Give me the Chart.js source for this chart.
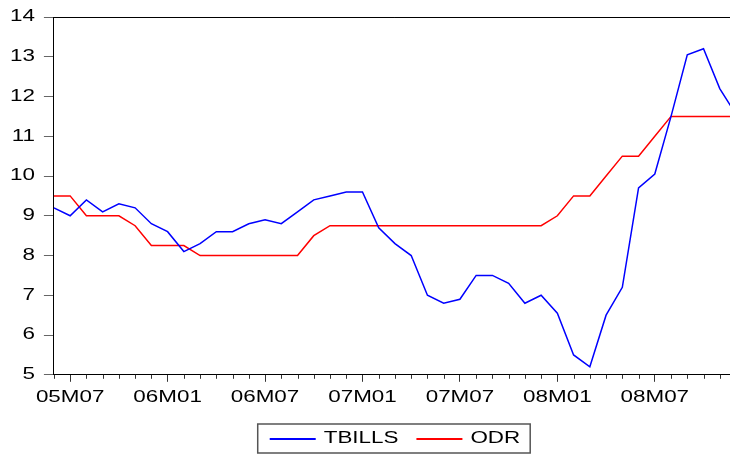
<!DOCTYPE html>
<html>
<head>
<meta charset="utf-8">
<script src="https://cdn.jsdelivr.net/npm/chart.js@4/dist/chart.umd.min.js"></script>
<style>
  html, body { margin: 0; padding: 0; overflow: hidden; background: #fff; }
  canvas { display: block; }
</style>
</head>
<body>
<canvas id="grafico" width="745" height="455"></canvas>
<script>
// meses 05M06 .. 08M12
const months = [
  "05M06","05M07","05M08","05M09","05M10","05M11","05M12",
  "06M01","06M02","06M03","06M04","06M05","06M06","06M07","06M08","06M09","06M10","06M11","06M12",
  "07M01","07M02","07M03","07M04","07M05","07M06","07M07","07M08","07M09","07M10","07M11","07M12",
  "08M01","08M02","08M03","08M04","08M05","08M06","08M07","08M08","08M09","08M10","08M11","08M12"
]
const majorLabels = ["05M07","06M01","06M07","07M01","07M07","08M01","08M07"]
const tbills = [
  9.2, 9.0, 9.4, 9.1, 9.3, 9.2, 8.8,
  8.6, 8.1, 8.3, 8.6, 8.6, 8.8, 8.9, 8.8, 9.1, 9.4, 9.5, 9.6,
  9.6, 8.7, 8.3, 8.0, 7.0, 6.8, 6.9, 7.5, 7.5, 7.3, 6.8, 7.0,
  6.55, 5.5, 5.2, 6.5, 7.2, 9.7, 10.05, 11.5, 13.05, 13.2, 12.2, 11.55
]
const odr = [
  9.5, 9.5, 9.0, 9.0, 9.0, 8.75, 8.25,
  8.25, 8.25, 8.0, 8.0, 8.0, 8.0, 8.0, 8.0, 8.0, 8.5, 8.75, 8.75,
  8.75, 8.75, 8.75, 8.75, 8.75, 8.75, 8.75, 8.75, 8.75, 8.75, 8.75, 8.75,
  9.0, 9.5, 9.5, 10.0, 10.5, 10.5, 11.0, 11.5, 11.5, 11.5, 11.5, 11.5
]
const yTicks = [5, 6, 7, 8, 9, 10, 11, 12, 13, 14]

const fuente = { family: "Liberation Sans", size: 16 }

// el original tiene el texto estirado a lo ancho
const ancho = 1.4
const estirado = {
  id: "estirado",
  beforeInit(chart) {
    const c = chart.ctx
    const fillOrig = CanvasRenderingContext2D.prototype.fillText
    const measureOrig = CanvasRenderingContext2D.prototype.measureText
    c.fillText = function (t, x, y) {
      this.save()
      this.translate(x, y)
      this.scale(ancho, 1)
      fillOrig.call(this, t, 0, 0)
      this.restore()
    }
    c.measureText = function (t) {
      const m = measureOrig.call(this, t)
      return {
        width: m.width * ancho,
        actualBoundingBoxAscent: m.actualBoundingBoxAscent,
        actualBoundingBoxDescent: m.actualBoundingBoxDescent
      }
    }
  }
}

// marcas menores del eje x, borde superior y recuadro de la leyenda
const extras = {
  id: "extras",
  afterDraw(chart) {
    const ctx = chart.ctx
    const x = chart.scales.x
    const area = chart.chartArea
    ctx.save()
    ctx.strokeStyle = "#333"
    ctx.lineWidth = 1
    ctx.beginPath()
    x.ticks.forEach((t, i) => {
      if (majorLabels.includes(months[i])) return
      const px = Math.round(x.getPixelForTick(i)) + 0.5
      ctx.moveTo(px, x.top)
      ctx.lineTo(px, x.top + 4)
    })
    ctx.stroke()
    ctx.strokeStyle = "#000"
    ctx.beginPath()
    ctx.moveTo(area.left, Math.round(area.top) + 0.5)
    ctx.lineTo(area.right, Math.round(area.top) + 0.5)
    ctx.stroke()
    const cajas = chart.legend.legendHitBoxes
    if (cajas && cajas.length) {
      const a = cajas[0], b = cajas[cajas.length - 1]
      const l = a.left - 12, r = b.left + b.width + 10
      const t = a.top - 7, bo = a.top + a.height + 6
      ctx.strokeStyle = "#555"
      ctx.lineWidth = 1.5
      ctx.strokeRect(l, t, r - l, bo - t)
    }
    ctx.restore()
  }
}

var ctx = document.getElementById("grafico").getContext("2d");
var grafico = new Chart(ctx, {
  type: "line",
  data: {
    labels: months,
    datasets: [
      {
        label: "TBILLS",
        data: tbills,
        borderColor: "#0000ff",
        backgroundColor: "#0000ff",
        borderWidth: 1.5,
        pointRadius: 0,
        tension: 0
      },
      {
        label: "ODR",
        data: odr,
        borderColor: "#ff0000",
        backgroundColor: "#ff0000",
        borderWidth: 1.5,
        pointRadius: 0,
        tension: 0
      }
    ]
  },
  options: {
    responsive: false,
    animation: false,
    layout: { padding: { left: 1, top: 15.5, right: 9, bottom: -2 } },
    plugins: {
      tooltip: { enabled: false },
      legend: {
        position: "bottom",
        fullSize: false,
        labels: {
          boxWidth: 46,
          boxHeight: 2,
          padding: 18,
          color: "#000",
          font: fuente,
          generateLabels(chart) {
            return Chart.defaults.plugins.legend.labels.generateLabels(chart).map(l => {
              l.lineWidth = 0
              return l
            })
          }
        }
      }
    },
    scales: {
      x: {
        ticks: {
          autoSkip: false,
          maxRotation: 0,
          color: "#000",
          font: fuente,
          padding: 6,
          callback: function (v, i) {
            return majorLabels.includes(months[i]) ? months[i] : ""
          }
        },
        grid: {
          drawOnChartArea: false,
          tickLength: 7,
          tickColor: c => majorLabels.includes(months[c.index]) ? "#333" : "rgba(0,0,0,0)"
        },
        border: { color: "#000", width: 1 }
      },
      y: {
        min: 5,
        max: 14,
        afterBuildTicks: s => { s.ticks = yTicks.map(v => ({ value: v })) },
        ticks: { color: "#000", font: { family: "Liberation Sans", size: 16, lineHeight: 1 }, padding: 9 },
        grid: { drawOnChartArea: false, tickLength: 10, tickColor: "#666" },
        border: { color: "#000", width: 1 }
      }
    }
  },
  plugins: [estirado, extras]
});
</script>
</body>
</html>
